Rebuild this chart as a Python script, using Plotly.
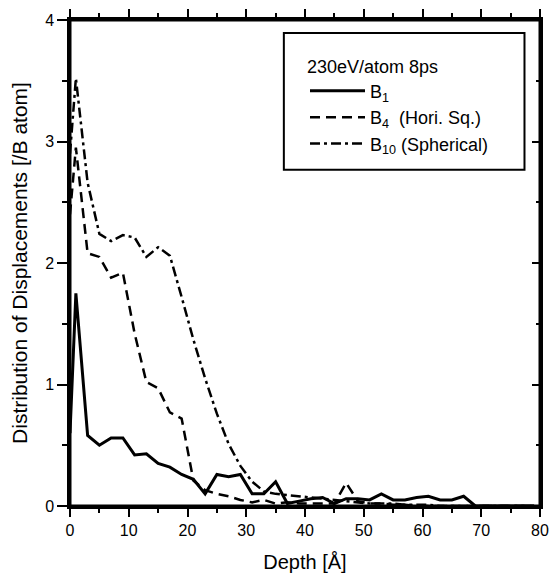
import plotly.graph_objects as go

depth = [0, 1, 3, 5, 7, 9, 11, 13, 15, 17, 19, 21, 23, 25, 27, 29, 31, 33, 35, 37,
         39, 41, 43, 45, 47, 49, 51, 53, 55, 57, 59, 61, 63, 65, 67, 69, 71, 73, 75, 77, 79]

b1 = [0.6, 1.75, 0.58, 0.50, 0.56, 0.56, 0.42, 0.43, 0.35, 0.32, 0.26, 0.22, 0.10, 0.26, 0.24, 0.26,
      0.10, 0.10, 0.20, 0.02, 0.04, 0.06, 0.07, 0.02, 0.06, 0.06, 0.05, 0.10, 0.05, 0.05, 0.07,
      0.08, 0.05, 0.05, 0.08, 0.0, 0.0, 0.0, 0.0, 0.0, 0.0]

b4 = [2.4, 2.95, 2.08, 2.05, 1.88, 1.92, 1.42, 1.02, 0.97, 0.77, 0.72, 0.21, 0.13, 0.10, 0.08, 0.05,
      0.03, 0.05, 0.02, 0.03, 0.02, 0.02, 0.02, 0.02, 0.19, 0.04, 0.02, 0.02, 0.01, 0.01, 0.0,
      0.0, 0.0, 0.0, 0.0, 0.0, 0.0, 0.0, 0.0, 0.0, 0.0]

b10 = [2.9, 3.52, 2.66, 2.24, 2.18, 2.23, 2.21, 2.05, 2.13, 2.06, 1.72, 1.37, 1.05, 0.76, 0.51, 0.33,
       0.20, 0.12, 0.10, 0.09, 0.08, 0.07, 0.06, 0.05, 0.04, 0.03, 0.02, 0.02, 0.02, 0.01, 0.01,
       0.01, 0.0, 0.0, 0.0, 0.0, 0.0, 0.0, 0.0, 0.0, 0.0]

series_names = ["B<sub>1</sub>", "B<sub>4</sub>  (Hori. Sq.)", "B<sub>10</sub> (Spherical)"]
legend_title = "230eV/atom 8ps"

x_ticks = [0, 10, 20, 30, 40, 50, 60, 70, 80]
y_ticks = [0, 1, 2, 3, 4]
x_range = [0, 80]
y_range = [0, 4]

FONT = "Liberation Sans, Arial, sans-serif"

fig = go.Figure()
fig.add_trace(go.Scatter(x=depth, y=b1, mode="lines", name=series_names[0],
                         line=dict(color="black", width=3, dash="solid")))
fig.add_trace(go.Scatter(x=depth, y=b4, mode="lines", name=series_names[1],
                         line=dict(color="black", width=2.5, dash="10px,6px")))
fig.add_trace(go.Scatter(x=depth, y=b10, mode="lines", name=series_names[2],
                         line=dict(color="black", width=2.5, dash="10px,4px,3px,4px")))
# right-hand axis carrying the inward tick marks
fig.add_trace(go.Scatter(x=[None], y=[None], xaxis="x", yaxis="y2",
                         showlegend=False, hoverinfo="skip", mode="lines"))

axis_common = dict(showgrid=False, zeroline=False, showline=True, linecolor="black",
                   linewidth=2.5, tickcolor="black", tickwidth=2)

# plot frame and legend box
fig.add_shape(type="rect", xref="x", yref="y", x0=x_range[0], x1=x_range[1],
              y0=y_range[0], y1=y_range[1],
              line=dict(color="black", width=3), layer="above")
fig.add_shape(type="rect", xref="paper", yref="paper", x0=0.455, x1=0.967, y0=0.692, y1=0.9735,
              line=dict(color="black", width=2), fillcolor="white", layer="below")

fig.update_layout(
    width=557, height=579,
    margin=dict(l=70, r=8, t=20, b=69),
    paper_bgcolor="white", plot_bgcolor="white",
    font=dict(family=FONT, size=16, color="black"),
    showlegend=True,
    legend=dict(
        title=dict(text=legend_title, font=dict(family=FONT, size=18, color="black")),
        x=0.5, y=0.94, xanchor="left", yanchor="top",
        bgcolor="rgba(0,0,0,0)", borderwidth=0,
        font=dict(family=FONT, size=18, color="black"),
        itemwidth=55, tracegroupgap=0,
    ),
    xaxis=dict(
        range=x_range, tickvals=x_ticks, ticktext=[str(v) for v in x_ticks],
        ticks="outside", ticklen=8, ticklabeloverflow="allow", mirror="ticks",
        minor=dict(dtick=5, ticks="outside", ticklen=4, tickwidth=2, tickcolor="black"),
        title=dict(text="Depth [Å]", font=dict(family=FONT, size=20), standoff=18),
        tickfont=dict(family=FONT, size=16),
        **axis_common,
    ),
    yaxis=dict(
        range=y_range, tickvals=y_ticks, ticktext=[str(v) for v in y_ticks],
        ticks="outside", ticklen=10,
        minor=dict(dtick=0.5, ticks="outside", ticklen=5, tickwidth=2, tickcolor="black"),
        title=dict(text="Distribution of Displacements [/B atom]", font=dict(family=FONT, size=21), standoff=12),
        tickfont=dict(family=FONT, size=16),
        **axis_common,
    ),
    yaxis2=dict(
        range=y_range, overlaying="y", side="right", tickvals=y_ticks,
        showticklabels=False, ticks="inside", ticklen=8,
        minor=dict(dtick=0.5, ticks="inside", ticklen=4, tickwidth=2, tickcolor="black"),
        **axis_common,
    ),
)

fig.write_html(
    "out.html",
    config={"displayModeBar": False},
    post_script="document.body.style.margin='0';document.body.style.overflow='hidden';",
)
